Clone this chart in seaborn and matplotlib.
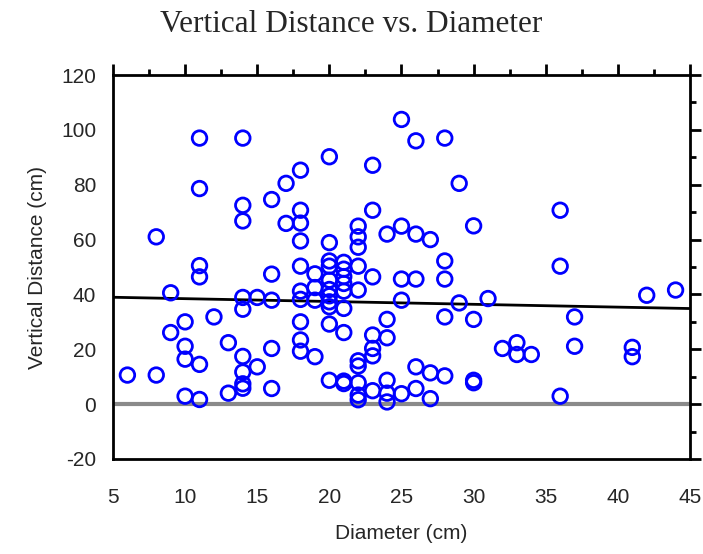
import numpy as np
import pandas as pd
import seaborn as sns
import matplotlib.pyplot as plt
from matplotlib.ticker import MultipleLocator

# diameter (cm) and vertical distance (cm), grouped by diameter
diam_6 = [10.6]
diam_8 = [61, 10.6]
diam_9 = [40.6, 26.1]
diam_10 = [30, 21.1, 16.4, 2.9]
diam_11 = [97, 78.6, 50.5, 46.4, 14.5, 1.7]
diam_12 = [31.8]
diam_13 = [22.4, 4.0]
diam_14 = [97, 72.5, 66.8, 38.9, 34.6, 17.4, 11.7, 7.4, 5.8]
diam_15 = [38.9, 13.6]
diam_16 = [74.6, 47.4, 37.9, 20.3, 5.7]
diam_17 = [80.5, 65.9]
diam_18 = [85.3, 70.7, 66, 59.5, 50.3, 41.2, 38.2, 30, 23.4, 19.3]
diam_19 = [47.5, 42.5, 37.9, 17.3]
diam_20 = [90.2, 58.9, 52.2, 50.3, 45.2, 41.8, 39.5, 37.3, 35.5, 29.2, 8.7]
diam_21 = [51.7, 49.2, 46.5, 44, 41.2, 34.9, 26.1, 8.4, 7.5]
diam_22 = [64.9, 61, 57.2, 50.3, 41.6, 15.8, 13.9, 7.8, 3.3, 1.6]
diam_23 = [87.1, 70.7, 46.4, 25.2, 20.3, 17.6, 4.9]
diam_24 = [62, 30.9, 24.2, 8.7, 4.0, 0.8]
diam_25 = [103.8, 64.9, 45.6, 37.9, 3.8]
diam_26 = [96, 62, 45.6, 13.6, 5.7]
diam_27 = [60, 11.4, 2.0]
diam_28 = [97, 52.2, 45.6, 31.8, 10.3]
diam_29 = [80.5, 36.9]
diam_30 = [65, 30.9, 8.7, 7.8]
diam_31 = [38.5]
diam_32 = [20.3]
diam_33 = [22.4, 18.1]
diam_34 = [18.1]
diam_36 = [70.7, 50.3, 2.9]
diam_37 = [31.8, 21.1]
diam_41 = [20.7, 17.3]
diam_42 = [39.7]
diam_44 = [41.6]

groups = {6: diam_6, 8: diam_8, 9: diam_9, 10: diam_10, 11: diam_11, 12: diam_12,
          13: diam_13, 14: diam_14, 15: diam_15, 16: diam_16, 17: diam_17, 18: diam_18,
          19: diam_19, 20: diam_20, 21: diam_21, 22: diam_22, 23: diam_23, 24: diam_24,
          25: diam_25, 26: diam_26, 27: diam_27, 28: diam_28, 29: diam_29, 30: diam_30,
          31: diam_31, 32: diam_32, 33: diam_33, 34: diam_34, 36: diam_36, 37: diam_37,
          41: diam_41, 42: diam_42, 44: diam_44}

rows = [(d, v) for d, vals in groups.items() for v in vals]
df = pd.DataFrame(rows, columns=["diameter", "vdist"])

sns.set_style("white")
plt.rcParams['font.family'] = ['Liberation Sans', 'DejaVu Sans']
plt.rcParams['axes.unicode_minus'] = False

fig = plt.figure(figsize=(7.03, 5.54), dpi=100)
ax = fig.add_axes([0.1607, 0.1715, 0.8208, 0.6931])

# zero reference line
ax.axhline(0, color="#8a8a8a", lw=3, zorder=1)

# least squares fit across the full x range
slope, intercept = np.polyfit(df["diameter"], df["vdist"], 1)
xfit = np.array([5, 45])
ax.plot(xfit, intercept + slope * xfit, color="black", lw=2, zorder=2)

sns.scatterplot(data=df, x="diameter", y="vdist", ax=ax, marker="o", s=110,
                facecolor="none", edgecolor="#0000ff", linewidth=2, zorder=3)

ax.set_xlim(5, 45)
ax.set_ylim(-20, 120)
ax.xaxis.set_major_locator(MultipleLocator(5))
ax.xaxis.set_minor_locator(MultipleLocator(2.5))
ax.yaxis.set_major_locator(MultipleLocator(20))
ax.yaxis.set_minor_locator(MultipleLocator(10))
ax.tick_params(which="both", direction="out", top=True, right=True,
               labeltop=False, labelright=False, width=2, color="black")
ax.tick_params(which="major", length=8, labelsize=15)
ax.tick_params(axis="x", which="major", pad=13)
ax.tick_params(axis="y", which="major", pad=4)
ax.tick_params(which="minor", length=4)
for sp in ax.spines.values():
    sp.set_linewidth(2)
    sp.set_color("black")

ax.set_xlabel("Diameter (cm)", fontsize=15, labelpad=12)
ax.set_ylabel("Vertical Distance (cm)", fontsize=15, labelpad=10)
fig.text(0.5, 0.955, "Vertical Distance vs. Diameter", ha="center", va="center",
         fontsize=22.5, family=["Liberation Serif", "DejaVu Serif"])

fig.savefig("out.png", dpi=100)
